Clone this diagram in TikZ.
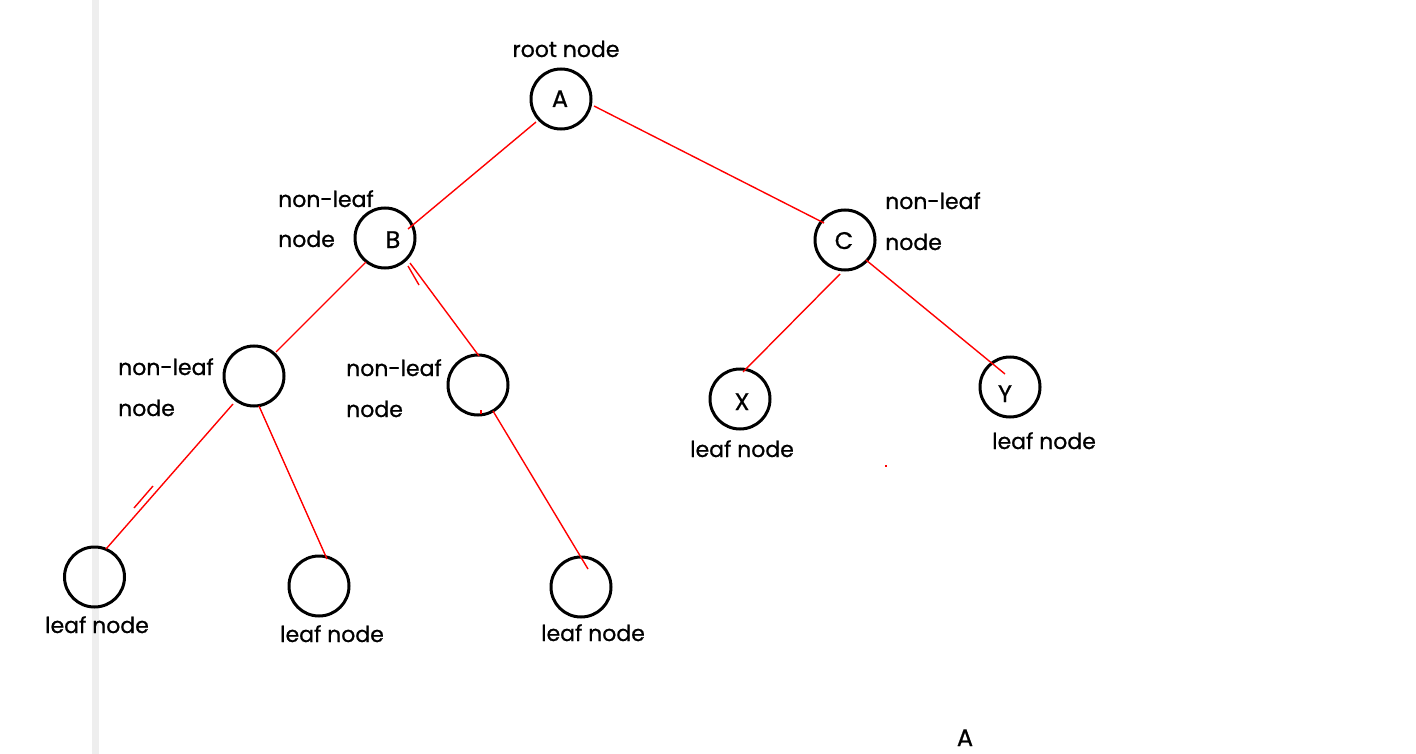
\documentclass[tikz,border=0pt]{standalone}
\usepackage{fontspec}
\setmainfont{Poppins}
\newfontfamily\lblfont{Poppins}[FakeBold=0.8]
\usetikzlibrary{calc}
\definecolor{barcol}{RGB}{238,238,238}
\tikzset{
  tnode/.style={circle,draw=black,line width=3pt,minimum size=60pt,inner sep=0pt},
  edge/.style={draw=red,line width=1.4pt},
  lbl/.style={inner sep=0pt,font=\lblfont\fontsize{22}{25}\selectfont},
  letter/.style={inner sep=0pt,font=\lblfont\fontsize{24}{27}\selectfont},
}
\begin{document}
\begin{tikzpicture}[x=1pt,y=-1pt]
\useasboundingbox (0,0) rectangle (1416,754);
\fill[barcol] (92,0) rectangle (99,754);
% nodes
\node[tnode] (A) at (561,99) {};
\node[tnode] (B) at (385,238) {};
\node[tnode] (C) at (845,240) {};
\node[tnode] (D) at (254,376) {};
\node[tnode] (E) at (478,385) {};
\node[tnode] (X) at (740,399) {};
\node[tnode] (Y) at (1010,387) {};
\node[tnode] (F) at (94.5,577) {};
\node[tnode] (G) at (319,586) {};
\node[tnode] (H) at (581,587) {};
% letters
\node[letter,anchor=base] (tA) at (560,107) {A};
\node[letter,anchor=base] (tB) at (393,248) {B};
\node[letter,anchor=base] (tC) at (844,249) {C};
\node[letter,anchor=base] (tX) at (742,410) {X};
\node[letter,anchor=base] (tY) at (1005,402) {Y};
% labels
\node[lbl,anchor=base] (lroot) at (566,57) {root node};
\node[lbl,anchor=base west] (lB1) at (278,207) {non-leaf};
\node[lbl,anchor=base west] (lB2) at (278,247) {node};
\node[lbl,anchor=base west] (lC1) at (885,209) {non-leaf};
\node[lbl,anchor=base west] (lC2) at (885,250) {node};
\node[lbl,anchor=base west] (lD1) at (118,375) {non-leaf};
\node[lbl,anchor=base west] (lD2) at (118,416) {node};
\node[lbl,anchor=base west] (lE1) at (346,376) {non-leaf};
\node[lbl,anchor=base west] (lE2) at (346,417) {node};
\node[lbl,anchor=base] (lX) at (742,457) {leaf node};
\node[lbl,anchor=base] (lY) at (1044,449) {leaf node};
\node[lbl,anchor=base] (lF) at (97,633) {leaf node};
\node[lbl,anchor=base] (lG) at (332,642) {leaf node};
\node[lbl,anchor=base] (lH) at (593,641) {leaf node};
\node[letter,anchor=base] (lbottom) at (965,746) {A};
% connectors
\draw[edge] ($(A)+(-25,23)$) -- ($(B)+(23,-9)$);
\draw[edge] ($(A)+(33,7)$) -- ($(C)+(-21,-17)$);
\draw[edge] ($(B)+(-19,24)$) -- ($(D)+(22,-24)$);
\draw[edge] ($(B)+(25,25)$) -- ($(E)+(1,-29)$);
\draw[edge] ($(B)+(23,28)$) -- ($(B)+(34,47)$);
\draw[edge] ($(D)+(-21,28)$) -- ($(F)+(11.5,-28)$);
\draw[edge] ($(F)+(39.5,-69)$) -- ($(F)+(58.5,-91)$);
\draw[edge] ($(D)+(5,30)$) -- ($(G)+(8,-27)$);
\draw[edge] ($(E)+(15,26)$) -- ($(H)+(7,-18)$);
\draw[edge] ($(E)+(3,25)$) -- ($(E)+(3,29)$);
\draw[edge] ($(C)+(-5,34)$) -- ($(X)+(3,-27)$);
\draw[edge] ($(C)+(21,20)$) -- ($(Y)+(-5,-13)$);
\fill[red] (885,465) rectangle (887,467);
\end{tikzpicture}
\end{document}
